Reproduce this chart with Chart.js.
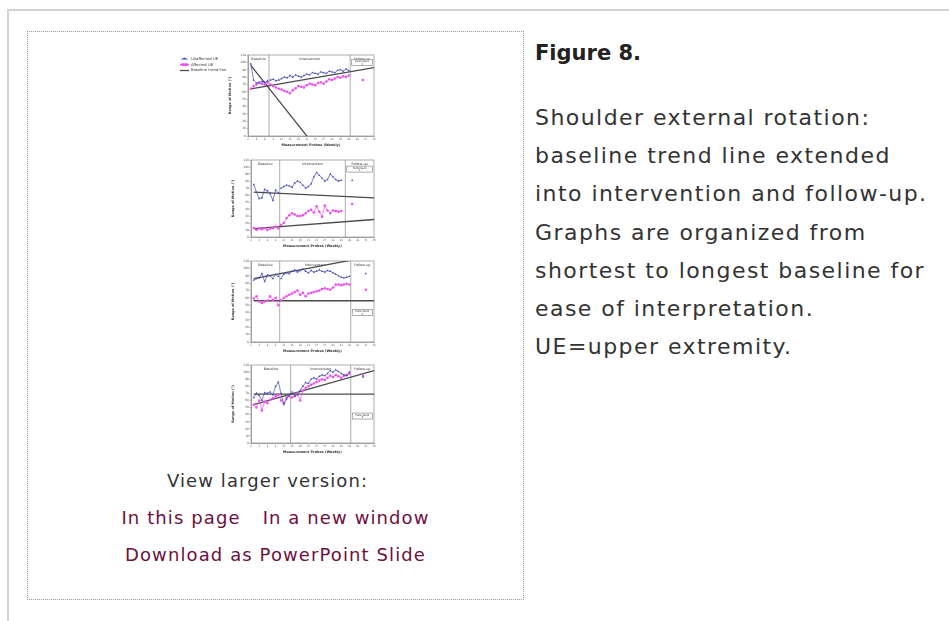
<!DOCTYPE html>
<html>
<head>
<meta charset="utf-8">
<script src="https://cdn.jsdelivr.net/npm/chart.js@4.4.0/dist/chart.umd.min.js"></script>
<style>
  body { margin: 0; background: #fff; font-family: "DejaVu Sans", sans-serif; }
  .frame { position: absolute; left: 7px; top: 9px; width: 950px; height: 620px; border-top: 2px solid #d3d3d3; border-left: 2px solid #d3d3d3; }
  .figbox { position: absolute; left: 27px; top: 31px; width: 495px; height: 567px; border: 1px dotted #9c9c9c; }
  canvas { position: absolute; }
  .links { position: absolute; left: 27px; top: 462px; width: 497px; text-align: center; font-size: 18px; line-height: 37px; letter-spacing: 1.1px; color: #333; }
  .links .view { margin-right: 16px; }
  .links a { color: #6e0f3d; text-decoration: none; }
  .links .gap { display: inline-block; width: 22px; }
  .caption { position: absolute; left: 535px; top: 40px; color: #333; white-space: nowrap; }
  .caption h3 { margin: 0; font-size: 21px; line-height: 26px; font-weight: bold; color: #222; }
  .caption p { margin: 33px 0 0 0; font-size: 22px; line-height: 38.2px; letter-spacing: 1.45px; }
</style>
</head>
<body>
<div class="frame"></div>
<div class="figbox"></div>

<canvas id="chart1" width="202" height="101" style="left:178px; top:47px;"></canvas>
<canvas id="chart2" width="150" height="97" style="left:230px; top:152px;"></canvas>
<canvas id="chart3" width="150" height="101" style="left:230px; top:253px;"></canvas>
<canvas id="chart4" width="150" height="98" style="left:230px; top:357px;"></canvas>

<div class="links">
  <span class="view">View larger version:</span><br>
  <a href="#">In this page</a><span class="gap"></span><a href="#">In a new window</a><br>
  <a href="#">Download as PowerPoint Slide</a>
</div>

<div class="caption">
  <h3>Figure 8.</h3>
  <p>Shoulder external rotation:<br>baseline trend line extended<br>into intervention and follow-up.<br>Graphs are organized from<br>shortest to longest baseline for<br>ease of interpretation.<br>UE=upper extremity.</p>
</div>

<script>
const seriesLabels = ['Unaffected UE', 'Affected UE', 'Baseline trend line'];
const phaseLabels = ['Baseline', 'Intervention', 'Follow-up'];
const xTitle = 'Measurement Probes (Weekly)';
const yTitle = 'Range of Motion (\u00b0)';
const trendWeeks = [1, 45];

// participant 1
const p1Weeks = [1, 2, 3, 4, 5, 6, 7, 8, 9, 10, 11, 12, 13, 14, 15, 16, 17, 18, 19, 20, 21, 22, 23, 24, 25, 26, 27, 28, 29, 30, 31, 32, 33, 34, 35, 36];
const p1Unaffected = [98, 76, 72, 73, 74, 73, 75, 76, 77, 75, 76, 78, 80, 79, 82, 80, 83, 81, 80, 82, 84, 83, 86, 85, 84, 87, 86, 85, 88, 87, 86, 89, 90, 88, 91, 89];
const p1Affected = [64, 68, 70, 72, 71, 70, 73, 70, 68, 66, 64, 63, 61, 60, 58, 62, 65, 68, 67, 66, 69, 71, 70, 69, 72, 73, 71, 74, 77, 76, 78, 80, 79, 81, 80, 82];
const p1FollowWeeks = [41];
const p1FollowUnaffected = [null];
const p1FollowAffected = [76];
const p1TrendUnaffected = [96, -115];
const p1TrendAffected = [64, 93];
const p1Changes = [7.5, 36.5];

// participant 2
const p2Weeks = [1, 2, 3, 4, 5, 6, 7, 8, 9, 10, 11, 12, 13, 14, 15, 16, 17, 18, 19, 20, 21, 22, 23, 24, 25, 26, 27, 28, 29, 30, 31, 32, 33];
const p2Unaffected = [75, 64, 55, 56, 68, 66, 62, 52, 67, 63, 70, 72, 74, 73, 71, 77, 80, 78, 74, 70, 72, 76, 86, 92, 88, 84, 80, 82, 90, 86, 82, 80, 81];
const p2Affected = [13, 10, 12, 11, 13, 10, 12, 13, 15, 12, 17, 20, 27, 31, 34, 32, 30, 30, 31, 34, 37, 39, 35, 44, 36, 29, 45, 38, 34, 38, 37, 36, 37];
const p2FollowWeeks = [37];
const p2FollowUnaffected = [81];
const p2FollowAffected = [47];
const p2TrendUnaffected = [64, 56];
const p2TrendAffected = [12, 25];
const p2Changes = [10.5, 34.5];

// participant 3
const p3Weeks = [1, 2, 3, 4, 5, 6, 7, 8, 9, 10, 11, 12, 13, 14, 15, 16, 17, 18, 19, 20, 21, 22, 23, 24, 25, 26, 27, 28, 29, 30, 31, 32, 33, 34, 35, 36];
const p3Unaffected = [84, 86, 87, 93, 82, 91, 90, 86, 92, 89, 86, 92, 94, 93, 96, 98, 95, 97, 99, 96, 94, 97, 95, 96, 98, 96, 95, 97, 96, 94, 92, 90, 88, 87, 88, 89];
const p3Affected = [59, 62, 55, 53, 55, 56, 62, 57, 60, 50, 57, 60, 62, 64, 66, 68, 70, 64, 67, 62, 66, 67, 68, 69, 70, 72, 73, 72, 71, 74, 78, 78, 77, 78, 79, 78];
const p3FollowWeeks = [42];
const p3FollowUnaffected = [93];
const p3FollowAffected = [71];
const p3TrendUnaffected = [86, 117];
const p3TrendAffected = [56, 56];
const p3Changes = [10.5, 36.5];

// participant 4
const p4Weeks = [1, 2, 3, 4, 5, 6, 7, 8, 9, 10, 11, 12, 13, 14, 15, 16, 17, 18, 19, 20, 21, 22, 23, 24, 25, 26, 27, 28, 29, 30, 31, 32, 33, 34, 35, 36];
const p4Unaffected = [64, 70, 67, 60, 71, 70, 72, 68, 80, 86, 70, 54, 62, 68, 72, 66, 68, 74, 80, 85, 84, 90, 92, 90, 94, 96, 95, 98, 102, 100, 103, 101, 98, 96, 95, 100];
const p4Affected = [54, 50, 60, 46, 58, 56, 61, 63, 66, 68, 60, 56, 64, 66, 64, 66, 70, 60, 74, 78, 80, 82, 84, 86, 88, 90, 89, 92, 95, 93, 96, 94, 92, 95, 96, 98];
const p4FollowWeeks = [41];
const p4FollowUnaffected = [93];
const p4FollowAffected = [95];
const p4TrendUnaffected = [69, 69];
const p4TrendAffected = [54, 102];
const p4Changes = [14.5, 36.5];

Chart.defaults.font.family = '"DejaVu Sans", sans-serif';

const blue = '#4848bd';
const pink = '#f04cf0';
const trendColor = '#4a4a4a';

// vertical phase lines, phase names and the participant box
const phasePlugin = {
  id: 'phases',
  beforeDatasetsDraw(chart, args, opts) {
    const { ctx, chartArea: a, scales: { x, y } } = chart;
    const edges = [a.left, ...opts.changes.map(v => x.getPixelForValue(v)), a.right];
    ctx.save();
    ctx.strokeStyle = '#8a8a8a';
    ctx.lineWidth = 0.7;
    ctx.strokeRect(a.left, a.top, a.right - a.left, a.bottom - a.top);
    opts.changes.forEach(v => {
      const px = x.getPixelForValue(v);
      ctx.beginPath();
      ctx.moveTo(px, a.top);
      ctx.lineTo(px, a.bottom);
      ctx.stroke();
    });
    ctx.fillStyle = '#333';
    ctx.font = '3.4px "DejaVu Sans"';
    ctx.textAlign = 'center';
    ctx.textBaseline = 'middle';
    phaseLabels.forEach((t, i) => ctx.fillText(t, (edges[i] + edges[i + 1]) / 2, a.top + 4));
    const by = y.getPixelForValue(opts.boxAt);
    ctx.fillStyle = '#fff';
    ctx.fillRect(edges[2] + 1.5, by - 3, edges[3] - edges[2] - 3, 6);
    ctx.strokeRect(edges[2] + 1.5, by - 3, edges[3] - edges[2] - 3, 6);
    ctx.fillStyle = '#333';
    ctx.font = '2.6px "DejaVu Sans"';
    ctx.fillText(opts.participant, (edges[2] + edges[3]) / 2, by - 1);
    ctx.fillText(opts.number, (edges[2] + edges[3]) / 2, by + 1.5);
    ctx.restore();
  }
};

function points(weeks, vals) {
  return weeks.map((w, i) => ({ x: w, y: vals[i] }));
}

function makeChart(id, d, withLegend) {
  const gap = c => d.changes.some(v => c.p0.parsed.x < v && c.p1.parsed.x > v) ? 'rgba(0,0,0,0)' : undefined;
  const series = (label, color, style, weeks, vals, fWeeks, fVals) => ({
    label: label,
    data: points(weeks, vals).concat(points(fWeeks, fVals)),
    borderColor: color,
    backgroundColor: color,
    borderWidth: 0.7,
    pointRadius: 1.25,
    pointStyle: style,
    pointBorderWidth: 0,
    segment: { borderColor: gap }
  });
  const trend = (label, vals) => ({
    label: label,
    data: points(trendWeeks, vals),
    borderColor: trendColor,
    backgroundColor: trendColor,
    borderWidth: 1.3,
    pointRadius: 0,
    pointStyle: 'line'
  });
  return new Chart(document.getElementById(id), {
    type: 'line',
    data: {
      datasets: [
        series(seriesLabels[0], blue, 'triangle', d.weeks, d.unaffected, d.followWeeks, d.followUnaffected),
        series(seriesLabels[1], pink, 'circle', d.weeks, d.affected, d.followWeeks, d.followAffected),
        trend(seriesLabels[2], d.trendUnaffected),
        trend(seriesLabels[2], d.trendAffected)
      ]
    },
    options: {
      responsive: false,
      animation: false,
      devicePixelRatio: 1,
      layout: { padding: { top: 8, right: 6, left: 0, bottom: 0 } },
      plugins: {
        legend: {
          display: withLegend,
          position: 'left',
          align: 'start',
          labels: {
            boxWidth: 8,
            boxHeight: 2,
            padding: 2,
            usePointStyle: true,
            pointStyleWidth: 9,
            color: '#333',
            font: { size: 3.8 },
            filter: item => item.datasetIndex < 3
          }
        },
        tooltip: { enabled: false },
        phases: { changes: d.changes, participant: 'Participant', number: d.number, boxAt: d.boxAt }
      },
      scales: {
        x: {
          type: 'linear',
          min: 0,
          max: 45,
          ticks: { stepSize: 1, font: { size: 2.4 }, color: '#555', padding: 0.5, maxRotation: 0 },
          grid: { drawOnChartArea: false, tickLength: 1.5, color: '#888', lineWidth: 0.5 },
          border: { color: '#888', width: 0.7 },
          title: { display: true, text: xTitle, font: { size: 3.4, weight: 'bold' }, color: '#333', padding: 1 },
          afterFit: s => { s.height = 12; }
        },
        y: {
          min: 0,
          max: 110,
          ticks: { stepSize: 10, font: { size: 3 }, color: '#555', padding: 0.5 },
          grid: { drawOnChartArea: false, tickLength: 1.5, color: '#888', lineWidth: 0.5 },
          border: { color: '#888', width: 0.7 },
          title: { display: true, text: yTitle, font: { size: 3.4, weight: 'bold' }, color: '#333', padding: 1 },
          afterFit: s => { s.width = 21; }
        }
      }
    },
    plugins: [phasePlugin]
  });
}

makeChart('chart1', {
  weeks: p1Weeks, unaffected: p1Unaffected, affected: p1Affected,
  followWeeks: p1FollowWeeks, followUnaffected: p1FollowUnaffected, followAffected: p1FollowAffected,
  trendUnaffected: p1TrendUnaffected, trendAffected: p1TrendAffected,
  changes: p1Changes, number: '1', boxAt: 100
}, true);
makeChart('chart2', {
  weeks: p2Weeks, unaffected: p2Unaffected, affected: p2Affected,
  followWeeks: p2FollowWeeks, followUnaffected: p2FollowUnaffected, followAffected: p2FollowAffected,
  trendUnaffected: p2TrendUnaffected, trendAffected: p2TrendAffected,
  changes: p2Changes, number: '2', boxAt: 97
}, false);
makeChart('chart3', {
  weeks: p3Weeks, unaffected: p3Unaffected, affected: p3Affected,
  followWeeks: p3FollowWeeks, followUnaffected: p3FollowUnaffected, followAffected: p3FollowAffected,
  trendUnaffected: p3TrendUnaffected, trendAffected: p3TrendAffected,
  changes: p3Changes, number: '3', boxAt: 40
}, false);
makeChart('chart4', {
  weeks: p4Weeks, unaffected: p4Unaffected, affected: p4Affected,
  followWeeks: p4FollowWeeks, followUnaffected: p4FollowUnaffected, followAffected: p4FollowAffected,
  trendUnaffected: p4TrendUnaffected, trendAffected: p4TrendAffected,
  changes: p4Changes, number: '4', boxAt: 38
}, false);
</script>
</body>
</html>
